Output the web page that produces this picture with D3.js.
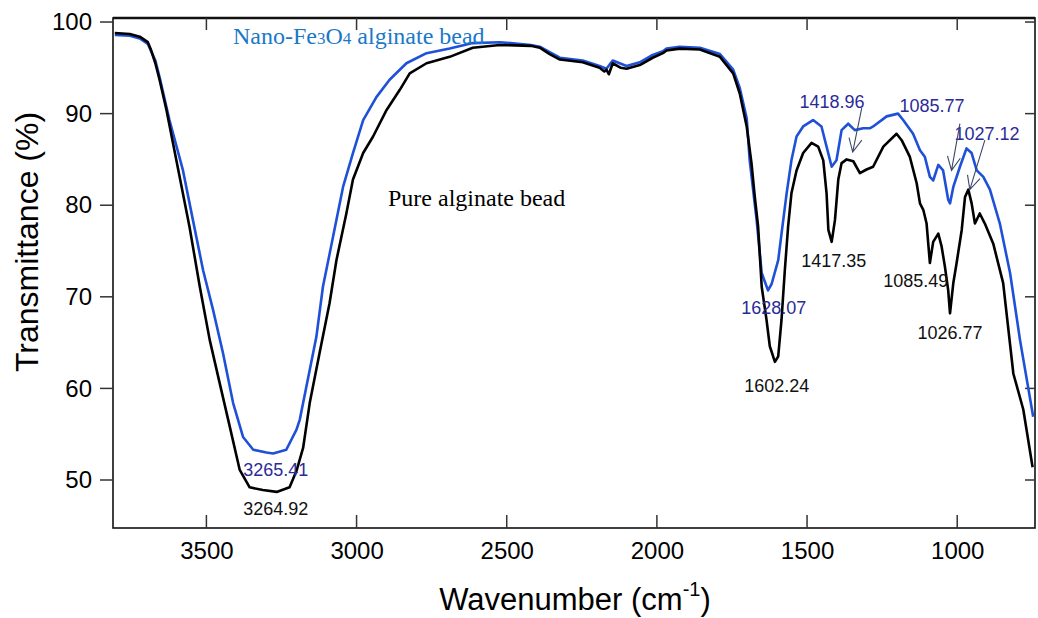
<!DOCTYPE html>
<html>
<head>
<meta charset="utf-8">
<script src="https://cdn.jsdelivr.net/npm/d3@7"></script>
<style>
body { margin: 0; background: #fff; }
svg { display: block; font-family: Arial, "Liberation Sans", sans-serif; }
</style>
</head>
<body>
<svg id="chart" width="1038" height="618"></svg>
<script>
// FTIR spectra, [wavenumber cm-1, transmittance %]
const pureAlginate = [
    [3805, 98.8], [3755, 98.7], [3722, 98.4], [3695, 97.8], [3685, 97.0], [3670, 95.5],
    [3656, 93.7], [3633, 90.4], [3600, 84.9], [3556, 77.6], [3522, 71.1], [3489, 65.3],
    [3456, 60.6], [3422, 55.8], [3389, 51.1], [3356, 49.2], [3312, 48.9], [3266, 48.7],
    [3223, 49.2], [3200, 51.0], [3178, 53.5], [3156, 58.4], [3123, 63.9], [3090, 69.3],
    [3067, 74.0], [3034, 79.1], [3012, 82.8], [2978, 85.7], [2945, 87.5], [2900, 90.4],
    [2856, 92.6], [2823, 94.4], [2767, 95.5], [2690, 96.2], [2613, 97.2], [2523, 97.5],
    [2420, 97.4], [2390, 97.2], [2357, 96.5], [2323, 95.9], [2247, 95.6], [2191, 95.0],
    [2175, 94.6], [2168, 94.8], [2160, 94.3], [2147, 95.5], [2120, 95.0], [2101, 94.9],
    [2057, 95.3], [2014, 96.1], [1980, 96.6], [1968, 96.9], [1924, 97.1], [1857, 97.0],
    [1790, 96.2], [1746, 94.4], [1724, 92.2], [1701, 88.6], [1685, 84.6], [1674, 80.9],
    [1663, 77.7], [1651, 71.1], [1635, 67.5], [1624, 64.6], [1607, 62.9], [1596, 63.5],
    [1585, 67.5], [1574, 72.9], [1563, 77.7], [1552, 81.3], [1535, 83.8], [1513, 85.7],
    [1485, 86.8], [1463, 86.4], [1446, 84.9], [1435, 81.3], [1429, 77.3], [1418, 76.0],
    [1407, 78.4], [1396, 82.8], [1385, 84.6], [1368, 85.0], [1346, 84.8], [1324, 83.5],
    [1302, 83.9], [1280, 84.2], [1246, 86.4], [1202, 87.8], [1185, 87.1], [1158, 85.3],
    [1135, 82.4], [1124, 80.2], [1113, 79.5], [1102, 78.0], [1091, 73.7], [1080, 76.0],
    [1063, 76.9], [1052, 75.5], [1041, 73.3], [1030, 70.7], [1024, 68.2], [1013, 71.5],
    [1002, 73.7], [985, 77.3], [974, 80.9], [963, 81.7], [952, 80.2], [941, 78.0],
    [925, 79.1], [908, 78.0], [880, 75.8], [847, 71.5], [813, 61.6], [780, 57.7], [749, 51.4]
];

const nanoFe3O4Alginate = [
    [3805, 98.6], [3755, 98.5], [3722, 98.2], [3695, 97.6], [3670, 95.8], [3656, 94.0],
    [3623, 89.3], [3578, 83.8], [3545, 78.4], [3511, 72.9], [3478, 68.6], [3445, 63.9],
    [3411, 58.4], [3378, 54.7], [3344, 53.3], [3300, 53.0], [3278, 52.9], [3234, 53.3],
    [3200, 55.5], [3189, 56.6], [3167, 60.2], [3156, 62.0], [3134, 65.6], [3112, 71.1],
    [3078, 76.6], [3045, 82.0], [3012, 85.7], [2978, 89.3], [2934, 91.8], [2890, 93.7],
    [2834, 95.5], [2767, 96.6], [2690, 97.1], [2613, 97.7], [2523, 97.8], [2420, 97.5],
    [2390, 97.3], [2357, 96.7], [2323, 96.1], [2247, 95.8], [2191, 95.2], [2168, 94.9],
    [2147, 95.8], [2101, 95.2], [2057, 95.6], [2014, 96.4], [1980, 96.8], [1968, 97.1],
    [1924, 97.3], [1857, 97.2], [1790, 96.5], [1746, 94.8], [1724, 92.8], [1701, 89.5],
    [1691, 84.9], [1668, 78.4], [1651, 72.6], [1630, 70.7], [1618, 71.4], [1596, 74.0],
    [1585, 76.9], [1568, 81.3], [1552, 84.9], [1535, 87.5], [1513, 88.6], [1480, 89.3],
    [1452, 88.6], [1435, 86.4], [1418, 84.2], [1402, 84.9], [1385, 88.2], [1363, 88.9],
    [1341, 88.2], [1313, 88.4], [1291, 88.4], [1280, 88.6], [1235, 89.7], [1197, 90.0],
    [1180, 89.3], [1147, 87.8], [1124, 86.0], [1108, 85.3], [1091, 83.1], [1080, 82.7],
    [1063, 84.4], [1047, 83.8], [1030, 80.6], [1024, 80.2], [1013, 82.0], [991, 84.2],
    [969, 86.2], [952, 85.7], [935, 83.8], [913, 83.1], [891, 81.7], [858, 78.0],
    [824, 72.6], [791, 65.3], [747, 56.9]
];

const xTicks = [3500, 3000, 2500, 2000, 1500, 1000];
const yTicks = [100, 90, 80, 70, 60, 50];

// peak labels: [text, wavenumber, transmittance, series]
const peakLabels = [
    ["3265.41", 3269, 50.4, "nano"],
    ["3264.92", 3269, 46.2, "pure"],
    ["1628.07", 1611, 68.1, "nano"],
    ["1602.24", 1601, 59.6, "pure"],
    ["1417.35", 1411, 73.3, "pure"],
    ["1085.49", 1138, 71.1, "pure"],
    ["1026.77", 1024, 65.4, "pure"],
    ["1418.96", 1417, 90.6, "nano"],
    ["1085.77", 1084, 90.2, "nano"],
    ["1027.12", 901, 87.1, "nano"]
];

// arrows: [fromWn, fromT, toWn, toT]
const peakArrows = [
    [1318, 90.6, 1348, 85.8],
    [991, 88.9, 1019, 83.8],
    [908, 87.1, 958, 81.7]
];

const colors = {
    pure: "#000000",
    nano: "#1f50d8",
    nanoLabel: "#2b2b98",
    nanoTitle: "#1a78c8"
};

const svg = d3.select("#chart");
const plot = {left: 113, right: 1035, top: 18, bottom: 528};

const x = d3.scaleLinear().domain([3811, 741]).range([plot.left, plot.right]);
const y = d3.scaleLinear().domain([100.44, 44.76]).range([plot.top, plot.bottom]);

function styleAxis(g) {
    g.select(".domain").remove();
    g.selectAll(".tick line").remove();
    g.selectAll(".tick text")
        .attr("fill", "#000")
        .style("font-size", "24px")
        .style("font-family", "Arial, 'Liberation Sans', sans-serif");
}

// frame
svg.append("rect")
    .attr("x", plot.left)
    .attr("y", plot.top)
    .attr("width", plot.right - plot.left)
    .attr("height", plot.bottom - plot.top)
    .attr("fill", "none")
    .attr("stroke", "#111")
    .attr("stroke-width", 1.6);

svg.append("line")
    .attr("x1", plot.left).attr("x2", plot.right)
    .attr("y1", plot.top).attr("y2", plot.top)
    .attr("stroke", "#111")
    .attr("stroke-width", 2.4);

// tick labels from the axes
svg.append("g")
    .attr("transform", `translate(${plot.left},0)`)
    .call(d3.axisLeft(y).tickValues(yTicks).tickSize(0).tickPadding(21).tickFormat(d3.format("d")))
    .call(styleAxis);

svg.append("g")
    .attr("transform", `translate(0,${plot.bottom})`)
    .call(d3.axisBottom(x).tickValues(xTicks).tickSize(0).tickPadding(14).tickFormat(d3.format("d")))
    .call(styleAxis);

// tick marks: left outward, others inward
let tickGroup = svg.append("g")
    .attr("stroke", "#333")
    .attr("stroke-width", 1.5);

tickGroup.selectAll(".ytick-left")
    .data(yTicks)
    .enter()
    .append("line")
    .attr("x1", plot.left - 13).attr("x2", plot.left)
    .attr("y1", d => y(d)).attr("y2", d => y(d));

tickGroup.selectAll(".ytick-right")
    .data(yTicks)
    .enter()
    .append("line")
    .attr("x1", plot.right - 10).attr("x2", plot.right)
    .attr("y1", d => y(d)).attr("y2", d => y(d));

tickGroup.selectAll(".xtick-bottom")
    .data(xTicks)
    .enter()
    .append("line")
    .attr("x1", d => x(d)).attr("x2", d => x(d))
    .attr("y1", plot.bottom - 13).attr("y2", plot.bottom);

tickGroup.selectAll(".xtick-top")
    .data(xTicks)
    .enter()
    .append("line")
    .attr("x1", d => x(d)).attr("x2", d => x(d))
    .attr("y1", plot.top).attr("y2", plot.top + 12);

const line = d3.line()
    .x(d => x(d[0]))
    .y(d => y(d[1]))
    .curve(d3.curveLinear);

svg.append("path")
    .datum(nanoFe3O4Alginate)
    .attr("fill", "none")
    .attr("stroke", colors.nano)
    .attr("stroke-width", 2.6)
    .attr("stroke-linejoin", "round")
    .attr("d", line);

svg.append("path")
    .datum(pureAlginate)
    .attr("fill", "none")
    .attr("stroke", colors.pure)
    .attr("stroke-width", 2.6)
    .attr("stroke-linejoin", "round")
    .attr("d", line);

// series names
let nanoTitle = svg.append("text")
    .attr("x", 233)
    .attr("y", 44)
    .attr("fill", colors.nanoTitle)
    .style("font-family", "'Liberation Serif', 'Times New Roman', serif")
    .style("font-size", "24px");
nanoTitle.append("tspan").text("Nano-Fe");
nanoTitle.append("tspan").style("font-size", "17px").text("3");
nanoTitle.append("tspan").text("O");
nanoTitle.append("tspan").style("font-size", "17px").text("4");
nanoTitle.append("tspan").text(" alginate bead");

svg.append("text")
    .attr("x", 388)
    .attr("y", 206)
    .attr("fill", "#000")
    .style("font-family", "'Liberation Serif', 'Times New Roman', serif")
    .style("font-size", "24px")
    .text("Pure alginate bead");

// peak labels
svg.selectAll(".peak-label")
    .data(peakLabels)
    .enter()
    .append("text")
    .attr("class", "peak-label")
    .attr("x", d => x(d[1]))
    .attr("y", d => y(d[2]))
    .attr("text-anchor", "middle")
    .attr("fill", d => d[3] === "nano" ? colors.nanoLabel : "#111")
    .style("font-size", "18px")
    .text(d => d[0]);

// arrows with open heads
let arrowGroup = svg.append("g")
    .attr("stroke", "#3c4868")
    .attr("stroke-width", 1.1)
    .attr("fill", "none");

peakArrows.forEach(a => {
    let x0 = x(a[0]), y0 = y(a[1]), x1 = x(a[2]), y1 = y(a[3]);
    let angle = Math.atan2(y0 - y1, x0 - x1);
    let headLen = 15, spread = 0.45;
    arrowGroup.append("path")
        .attr("d", `M${x0},${y0}L${x1},${y1}` +
            `M${x1 + headLen * Math.cos(angle - spread)},${y1 + headLen * Math.sin(angle - spread)}` +
            `L${x1},${y1}` +
            `L${x1 + headLen * Math.cos(angle + spread)},${y1 + headLen * Math.sin(angle + spread)}`);
});

// axis titles
svg.append("text")
    .attr("transform", `translate(38, 242) rotate(-90)`)
    .attr("text-anchor", "middle")
    .attr("fill", "#000")
    .style("font-size", "32px")
    .text("Transmittance (%)");

let xTitle = svg.append("text")
    .attr("x", 575)
    .attr("y", 610)
    .attr("text-anchor", "middle")
    .attr("fill", "#000")
    .style("font-size", "31px");
xTitle.append("tspan").text("Wavenumber (cm");
xTitle.append("tspan").attr("dy", -14).style("font-size", "20px").text("-1");
xTitle.append("tspan").attr("dy", 14).text(")");
</script>
</body>
</html>
